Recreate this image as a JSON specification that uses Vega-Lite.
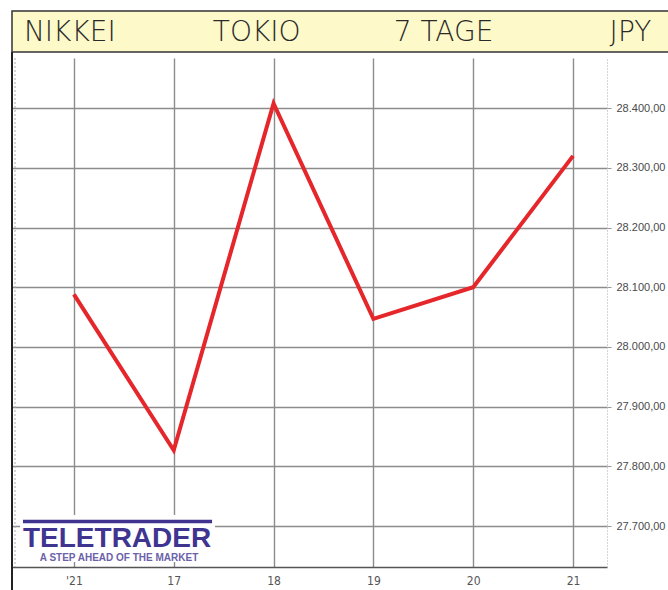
{
  "$schema": "https://vega.github.io/schema/vega-lite/v6.json",
  "background": "white",
  "padding": {"left": 11, "top": 10, "right": 0, "bottom": 0},
  "config": {"view": {"stroke": null}},
  "spacing": -2,
  "vconcat": [
    {
      "width": 657,
      "height": 41,
      "view": {"fill": "#fef9c9", "stroke": "#333333", "strokeWidth": 1.5},
      "data": {"values": [{"word": "NIKKEI"}, {"word": "TOKIO"}, {"word": "7 TAGE"}, {"word": "JPY"}]},
      "mark": {"type": "text", "font": "DejaVu Sans", "fontWeight": 200, "fontSize": 28, "color": "#2a2a2a", "align": "center", "baseline": "middle", "dy": 1},
      "encoding": {
        "x": {"field": "word", "type": "nominal", "sort": null, "axis": null,
              "scale": {"type": "point", "padding": 0.258, "align": 0.6}},
        "text": {"field": "word"}
      }
    },
    {
      "width": 595,
      "height": 509,
      "layer": [
        {
          "data": {"values": [
            {"i": 0, "v": 28088},
            {"i": 1, "v": 27827},
            {"i": 2, "v": 28408},
            {"i": 3, "v": 28047},
            {"i": 4, "v": 28100},
            {"i": 5, "v": 28320}
          ]},
          "mark": {"type": "line", "color": "#e5262b", "strokeWidth": 4},
          "encoding": {
            "x": {"field": "i", "type": "quantitative",
                  "scale": {"domain": [-0.62, 5.34], "nice": false, "zero": false},
                  "axis": {"title": null, "values": [0, 1, 2, 3, 4, 5], "grid": true, "gridColor": "#8c8c8c", "gridWidth": 1.4,
                           "ticks": false, "domainColor": "#555555", "domainWidth": 1.5, "labelPadding": 8,
                           "labelFont": "DejaVu Sans Condensed, Liberation Sans", "labelFontSize": 12, "labelColor": "#555555",
                           "labelExpr": "[\"'21\",\"17\",\"18\",\"19\",\"20\",\"21\"][datum.value]"}},
            "y": {"field": "v", "type": "quantitative",
                  "scale": {"domain": [27631.4, 28484], "nice": false, "zero": false},
                  "axis": {"title": null, "orient": "right", "values": [27700, 27800, 27900, 28000, 28100, 28200, 28300, 28400],
                           "grid": true, "gridColor": "#8c8c8c", "gridWidth": 1.4,
                           "domainColor": "#aaaaaa", "domainDash": [1, 2], "tickColor": "#999999", "tickSize": 4,
                           "labelPadding": 5, "labelFont": "Liberation Sans", "labelFontSize": 11, "labelColor": "#4a4a4a",
                           "labelExpr": "replace(replace(replace(format(datum.value, ',.2f'), ',', '#'), '.', ','), '#', '.')"}}
          }
        },
        {
          "data": {"values": [{}]},
          "mark": {"type": "rule", "color": "#222222", "strokeWidth": 2},
          "encoding": {
            "x": {"datum": -0.62},
            "y": {"datum": 28494},
            "y2": {"datum": 27592}
          }
        },
        {
          "data": {"values": [{}]},
          "mark": {"type": "rule", "color": "#aaaaaa", "strokeWidth": 1, "strokeDash": [2, 2]},
          "encoding": {
            "x": {"datum": -0.59},
            "y": {"datum": 28484},
            "y2": {"datum": 27631.4}
          }
        },
        {
          "data": {"values": [{}]},
          "mark": {"type": "rect", "fill": "white"},
          "encoding": {
            "x": {"datum": -0.54},
            "x2": {"datum": 1.414},
            "y": {"datum": 27718.5},
            "y2": {"datum": 27639.8}
          }
        },
        {
          "data": {"values": [{}]},
          "mark": {"type": "rule", "color": "#3f3590", "strokeWidth": 3.5},
          "encoding": {
            "x": {"datum": -0.51},
            "x2": {"datum": 1.384},
            "y": {"datum": 27707.6}
          }
        },
        {
          "data": {"values": [{}]},
          "mark": {"type": "text", "text": "TELETRADER", "font": "Liberation Sans", "fontWeight": "bold", "fontSize": 28,
                   "color": "#3f3590", "align": "left", "baseline": "alphabetic"},
          "encoding": {
            "x": {"datum": -0.51},
            "y": {"datum": 27665.5}
          }
        },
        {
          "data": {"values": [{}]},
          "mark": {"type": "text", "text": "A STEP AHEAD OF THE MARKET", "font": "Liberation Sans", "fontWeight": "bold", "fontSize": 10,
                   "color": "#6b61a8", "align": "center", "baseline": "alphabetic"},
          "encoding": {
            "x": {"datum": 0.452},
            "y": {"datum": 27642}
          }
        }
      ]
    }
  ]
}
